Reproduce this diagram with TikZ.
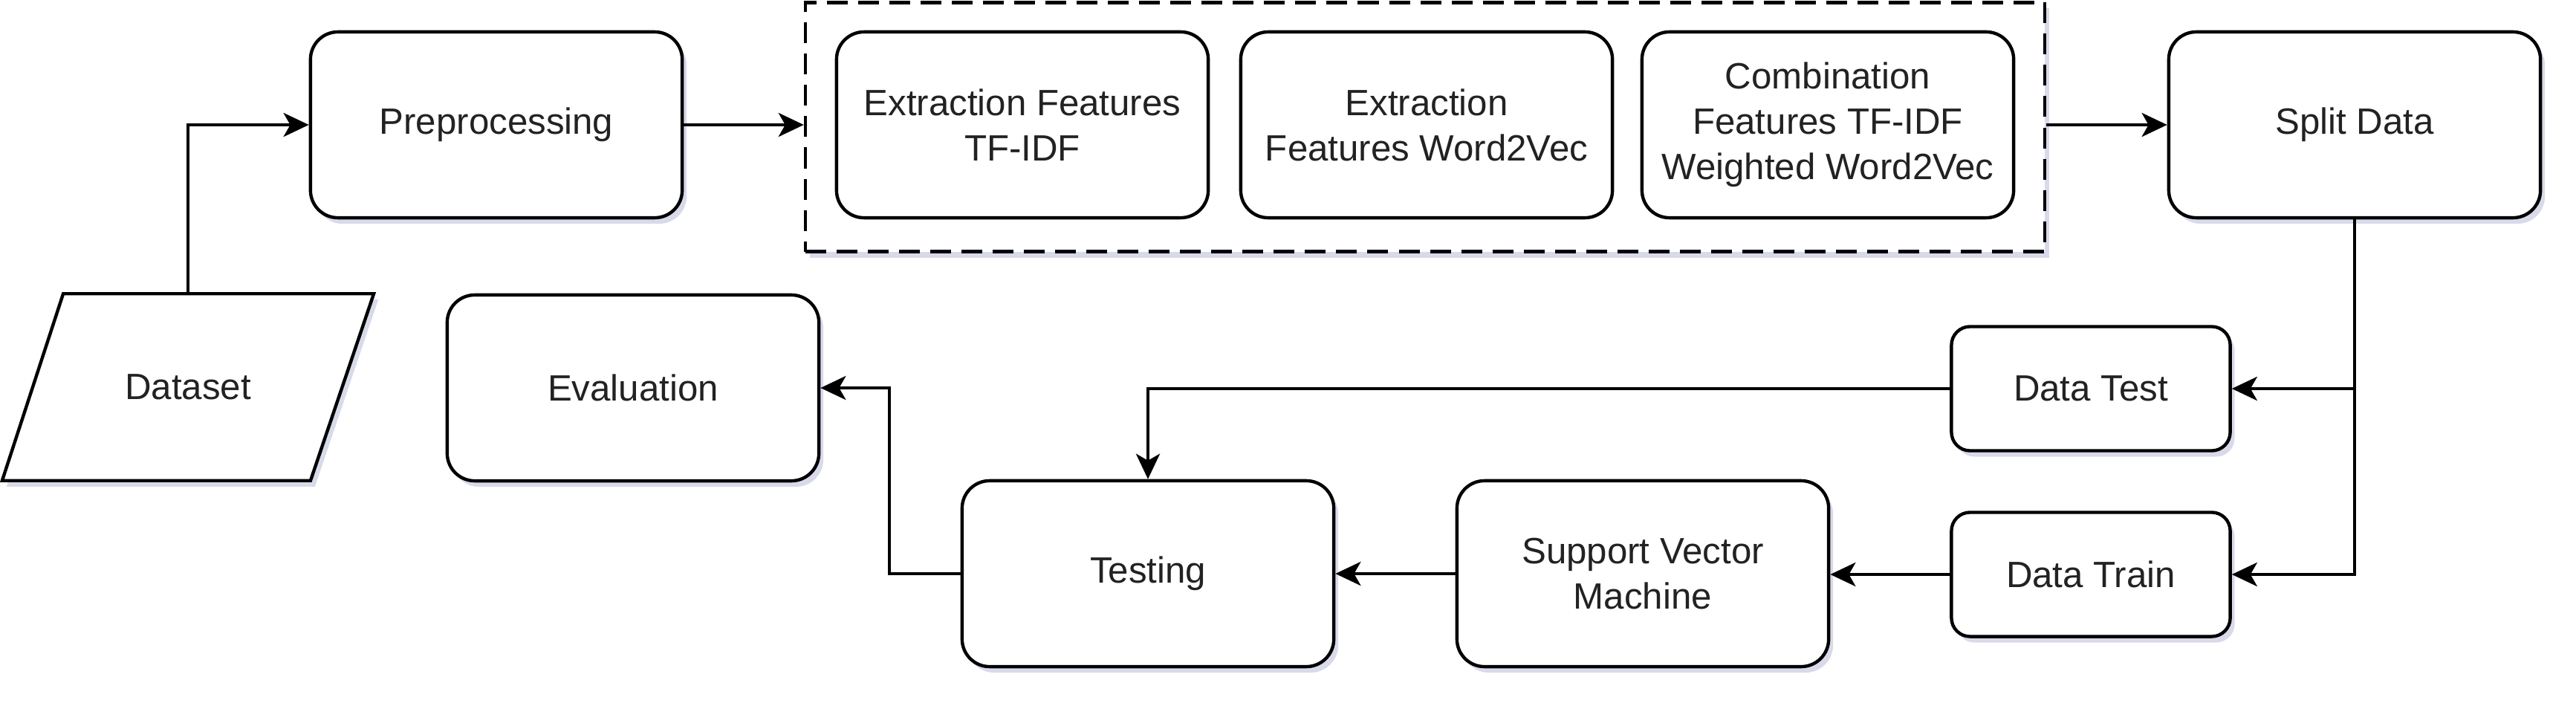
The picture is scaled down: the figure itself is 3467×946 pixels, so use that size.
\documentclass[tikz,border=0pt]{standalone}
\usepackage{fontspec}
\setmainfont{Liberation Sans}
\usetikzlibrary{arrows.meta,shadows,calc,backgrounds}
\definecolor{shadowc}{RGB}{200,202,225}
\definecolor{txt}{RGB}{34,34,34}
\begin{document}
\begin{tikzpicture}[x=0.01cm,y=-0.01cm,
  font=\fontsize{14pt}{17.3pt}\selectfont,
  box/.style={draw=black, line width=1.25pt, fill=white, rounded corners=0.37cm,
    minimum width=5cm, minimum height=2.5cm, align=center, inner sep=0pt, text=txt},
  smallbox/.style={box, minimum width=3.75cm, minimum height=1.67cm, rounded corners=0.25cm},
  shd/.style={drop shadow={shadow xshift=0.06cm, shadow yshift=-0.08cm, fill=shadowc, opacity=0.7}},
  conn/.style={line width=1.25pt, -{Stealth[length=0.34cm, width=0.32cm, inset=0.09cm]}},
  grpbox/.style={draw=black, line width=1.25pt, dash pattern=on 0.28cm off 0.14cm, fill=white,
    minimum width=16.67cm, minimum height=3.35cm, inner sep=0pt},
  ]
\useasboundingbox (0,0) rectangle (3467,946);

\node[box,shd] (pre) at (668,168) {Preprocessing};
\node[grpbox,shd] (grp) at (1918,171) {};
\node[box] (f1) at (1376,168) {Extraction Features\\TF-IDF};
\node[box] (f2) at (1920,168) {Extraction\\Features Word2Vec};
\node[box] (f3) at (2460,168) {Combination\\Features TF-IDF\\Weighted Word2Vec};
\node[box,shd] (split) at (3169,168) {Split Data};
\node[box,shd] (eval) at (852,522) {Evaluation};
\node[box,shd] (test) at (1545,772) {Testing};
\node[box,shd] (svm) at (2211,772) {Support Vector\\Machine};
\node[smallbox,shd] (dtest) at (2814,523) {Data Test};
\node[smallbox,shd] (dtrain) at (2814,773) {Data Train};

\node[minimum width=4.985cm, minimum height=2.5cm, inner sep=0pt, text=txt] (ds) at (253,521) {Dataset};
\begin{scope}[on background layer]
\draw[line width=1.25pt, fill=white, shd] (ds.south west) -- ++(415,0) -- (ds.north east) -- ++(-418,0) -- cycle;
\end{scope}

\draw[conn] (ds.north) |- (pre.west);
\draw[conn] (pre.east) -- (pre.east -| grp.west);
\draw[conn] (grp.east |- split.west) -- (split.west);
\draw[conn] (split.south) |- (dtrain.east);
\draw[conn] (split.south |- dtest.east) -- (dtest.east);
\draw[conn] (dtest.west) -| (test.north);
\draw[conn] (dtrain.west) -- (svm.east |- dtrain.west);
\draw[conn] (svm.west) -- (test.east);
\coordinate (e1) at (1197,772);
\draw[conn] (test.west) -- (e1) |- (eval.east);
\end{tikzpicture}
\end{document}
